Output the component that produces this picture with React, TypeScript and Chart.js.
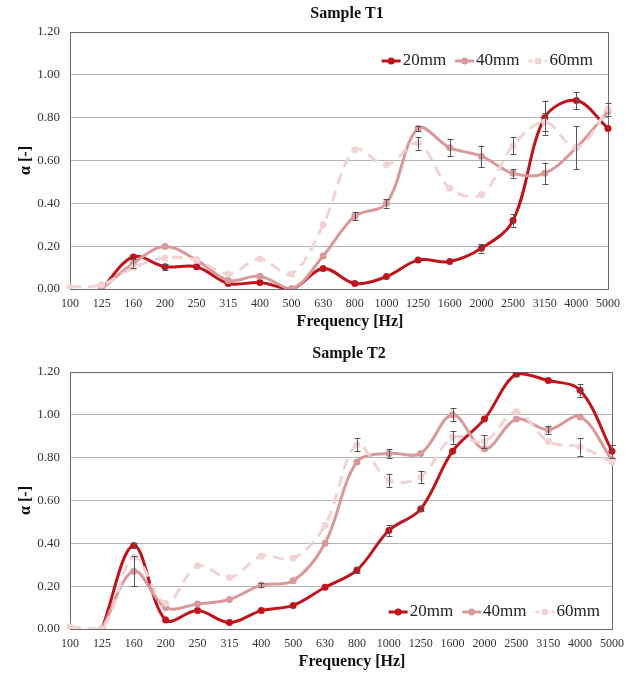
import React, { useEffect, useRef } from "react";
import { Chart, registerables } from "chart.js";

Chart.register(...registerables);

// ---------- data ----------
const frequencies = ["100", "125", "160", "200", "250", "315", "400", "500", "630", "800", "1000", "1250", "1600", "2000", "2500", "3150", "4000", "5000"];
const seriesLabels = ["20mm", "40mm", "60mm"];
const yTicks = [0, 0.2, 0.4, 0.6, 0.8, 1.0, 1.2];
const xAxisTitle = "Frequency [Hz]";
const yAxisTitle = "α [-]";

// Sample T1
const t1_20 = [null, 0.0, 0.15, 0.104, 0.104, 0.026, 0.03, 0.0, 0.096, 0.026, 0.058, 0.135, 0.128, 0.19, 0.32, 0.8, 0.88, 0.75];
const t1_40 = [null, 0.0, 0.12, 0.198, 0.135, 0.04, 0.06, 0.0, 0.154, 0.34, 0.4, 0.75, 0.66, 0.62, 0.54, 0.54, 0.66, 0.83];
const t1_60 = [0.01, 0.02, 0.1, 0.145, 0.135, 0.07, 0.14, 0.07, 0.3, 0.65, 0.58, 0.68, 0.47, 0.44, 0.67, 0.78, 0.66, 0.84];
const t1_err20 = [0, 0, 0, 0.015, 0, 0, 0, 0, 0, 0, 0, 0, 0, 0.02, 0.03, 0.08, 0.04, 0];
const t1_err40 = [0, 0, 0.02, 0, 0, 0, 0, 0, 0, 0.02, 0.02, 0.01, 0.04, 0.05, 0.02, 0.05, 0.1, 0];
const t1_err60 = [0, 0, 0, 0, 0, 0, 0, 0, 0, 0, 0, 0.03, 0, 0, 0.04, 0.04, 0, 0.03];

// Sample T2
const t2_20 = [null, 0.0, 0.39, 0.042, 0.086, 0.03, 0.086, 0.11, 0.195, 0.275, 0.46, 0.56, 0.83, 0.98, 1.19, 1.16, 1.115, 0.83];
const t2_40 = [null, 0.0, 0.27, 0.1, 0.117, 0.138, 0.205, 0.225, 0.4, 0.78, 0.82, 0.82, 1.0, 0.84, 0.98, 0.93, 0.99, 0.79];
const t2_60 = [0.01, 0.0, 0.335, 0.12, 0.295, 0.24, 0.34, 0.33, 0.485, 0.86, 0.695, 0.71, 0.895, 0.875, 1.015, 0.875, 0.85, 0.78];
const t2_err20 = [0, 0, 0.01, 0, 0, 0, 0, 0, 0, 0.015, 0.025, 0.01, 0, 0, 0.01, 0, 0.03, 0.03];
const t2_err40 = [0, 0, 0.07, 0, 0, 0, 0.01, 0, 0, 0, 0.02, 0, 0.03, 0, 0, 0.02, 0, 0];
const t2_err60 = [0, 0, 0, 0, 0, 0, 0, 0, 0, 0.03, 0.03, 0.03, 0.03, 0.03, 0, 0, 0.04, 0];

const COLORS = ["#C0141C", "#D9999B", "#F2D3D5"];
const SERIF = '"Liberation Serif", "DejaVu Serif", serif';

type PanelProps = {
  title: string;
  values: (number | null)[][];
  errors: number[][];
  legendPos: "top" | "bottom";
  height: number;
  rightPad: number;
};

function Panel({ title, values, errors, legendPos, height, rightPad }: PanelProps) {
  const ref = useRef<HTMLCanvasElement | null>(null);

  useEffect(() => {
    if (!ref.current) return;
    const plotTop = 32;
    const plotBottom = 289;

    const boxPlugin = {
      id: "boxPlugin",
      beforeDatasetsDraw(chart: any) {
        const { ctx, chartArea: a } = chart;
        ctx.save();
        ctx.strokeStyle = "#6a6a6a";
        ctx.lineWidth = 1;
        ctx.strokeRect(Math.round(a.left) + 0.5, Math.round(a.top) + 0.5, Math.round(a.right - a.left), Math.round(a.bottom - a.top));
        ctx.restore();
      },
    };

    const textPlugin = {
      id: "textPlugin",
      afterDraw(chart: any) {
        const { ctx, chartArea: a } = chart;
        const cx = (a.left + a.right) / 2;
        ctx.save();
        ctx.fillStyle = "#111111";
        ctx.textAlign = "center";
        ctx.textBaseline = "middle";
        ctx.font = `bold 16px ${SERIF}`;
        ctx.fillText(title, cx + 8, 14);
        ctx.fillText(xAxisTitle, cx + 11, 322);
        ctx.restore();
      },
    };

    const errPlugin = {
      id: "errPlugin",
      afterDatasetsDraw(chart: any) {
        const { ctx } = chart;
        const xs = chart.scales.x;
        const ys = chart.scales.y;
        ctx.save();
        ctx.strokeStyle = "#555555";
        ctx.lineWidth = 1;
        errors.forEach((errArr, di) => {
          errArr.forEach((e, i) => {
            const v = values[di][i];
            if (!e || v == null) return;
            const x = Math.round(xs.getPixelForValue(i)) + 0.5;
            const y1 = ys.getPixelForValue(v + e);
            const y2 = ys.getPixelForValue(v - e);
            ctx.beginPath();
            ctx.moveTo(x, y1);
            ctx.lineTo(x, y2);
            ctx.moveTo(x - 3, Math.round(y1) + 0.5);
            ctx.lineTo(x + 3, Math.round(y1) + 0.5);
            ctx.moveTo(x - 3, Math.round(y2) + 0.5);
            ctx.lineTo(x + 3, Math.round(y2) + 0.5);
            ctx.stroke();
          });
        });
        ctx.restore();
      },
    };

    const legendPlugin = {
      id: "legendPlugin",
      afterDraw(chart: any) {
        const { ctx, chartArea: a } = chart;
        ctx.save();
        ctx.font = `17px ${SERIF}`;
        ctx.textBaseline = "middle";
        ctx.textAlign = "left";
        const y = legendPos === "top" ? a.top + 29 : a.bottom - 17;
        let x = a.right - (legendPos === "top" ? 15 : 12);
        const ds = chart.data.datasets;
        for (let i = ds.length - 1; i >= 0; i--) {
          const label = ds[i].label as string;
          const w = ctx.measureText(label).width;
          const tx = x - w;
          ctx.fillStyle = "#222222";
          ctx.fillText(label, tx, y);
          const lx2 = tx - 2;
          const lx1 = lx2 - 19;
          ctx.strokeStyle = ds[i].borderColor;
          ctx.lineWidth = 3;
          ctx.setLineDash(i === 2 ? [4, 4] : []);
          ctx.beginPath();
          ctx.moveTo(lx1, y);
          ctx.lineTo(lx2, y);
          ctx.stroke();
          ctx.setLineDash([]);
          ctx.fillStyle = ds[i].borderColor;
          ctx.beginPath();
          ctx.arc((lx1 + lx2) / 2, y, 3.5, 0, Math.PI * 2);
          ctx.fill();
          x = lx1 - 9;
        }
        ctx.restore();
      },
    };

    const chart = new Chart(ref.current, {
      type: "line",
      data: {
        labels: frequencies,
        datasets: values.map((v, i) => ({
          label: seriesLabels[i],
          data: v,
          borderColor: COLORS[i],
          backgroundColor: COLORS[i],
          borderWidth: 3,
          borderDash: i === 2 ? [11, 7] : [],
          pointRadius: 3.5,
          pointBorderWidth: 0,
          pointBackgroundColor: COLORS[i],
          tension: 0.35,
          fill: false,
          order: 3 - i,
        })),
      },
      options: {
        animation: false,
        responsive: false,
        maintainAspectRatio: false,
        layout: { padding: { left: 0, right: rightPad, top: plotTop, bottom: 0 } },
        plugins: {
          legend: { display: false },
          tooltip: { enabled: false },
          title: { display: false },
        },
        scales: {
          x: {
            type: "category",
            offset: false,
            grid: { display: false, drawTicks: false },
            border: { display: false },
            ticks: {
              autoSkip: false,
              maxRotation: 0,
              padding: 8,
              color: "#333333",
              font: { family: SERIF, size: 12 },
            },
            afterFit: (s: any) => {
              s.height = height - plotBottom;
            },
          },
          y: {
            min: 0,
            max: 1.2,
            afterBuildTicks: (s: any) => {
              s.ticks = yTicks.map((v) => ({ value: v }));
            },
            grid: { color: "#b5b5b5", drawTicks: false, lineWidth: 1 },
            border: { display: false },
            ticks: {
              padding: 10,
              color: "#333333",
              font: { family: SERIF, size: 13 },
              callback: (v: any) => Number(v).toFixed(2),
            },
            title: {
              display: true,
              text: yAxisTitle,
              color: "#111111",
              font: { family: SERIF, size: 16, weight: "bold" },
              padding: { top: 16, bottom: 0 },
            },
            afterFit: (s: any) => {
              s.width = 70;
            },
          },
        },
      },
      plugins: [boxPlugin, errPlugin, legendPlugin, textPlugin],
    });
    return () => chart.destroy();
  }, []);

  return <canvas ref={ref} width={634} height={height} style={{ display: "block", width: 634, height }} />;
}

export default function App() {
  return (
    <div style={{ position: "absolute", left: 0, top: 0, width: 634, height: 673, background: "#ffffff", overflow: "hidden" }}>
      <div style={{ position: "absolute", left: 0, top: 0 }}>
        <Panel
          title="Sample T1"
          values={[t1_20, t1_40, t1_60]}
          errors={[t1_err20, t1_err40, t1_err60]}
          legendPos="top"
          height={336}
          rightPad={26}
        />
      </div>
      <div style={{ position: "absolute", left: 0, top: 340 }}>
        <Panel
          title="Sample T2"
          values={[t2_20, t2_40, t2_60]}
          errors={[t2_err20, t2_err40, t2_err60]}
          legendPos="bottom"
          height={333}
          rightPad={22}
        />
      </div>
    </div>
  );
}
